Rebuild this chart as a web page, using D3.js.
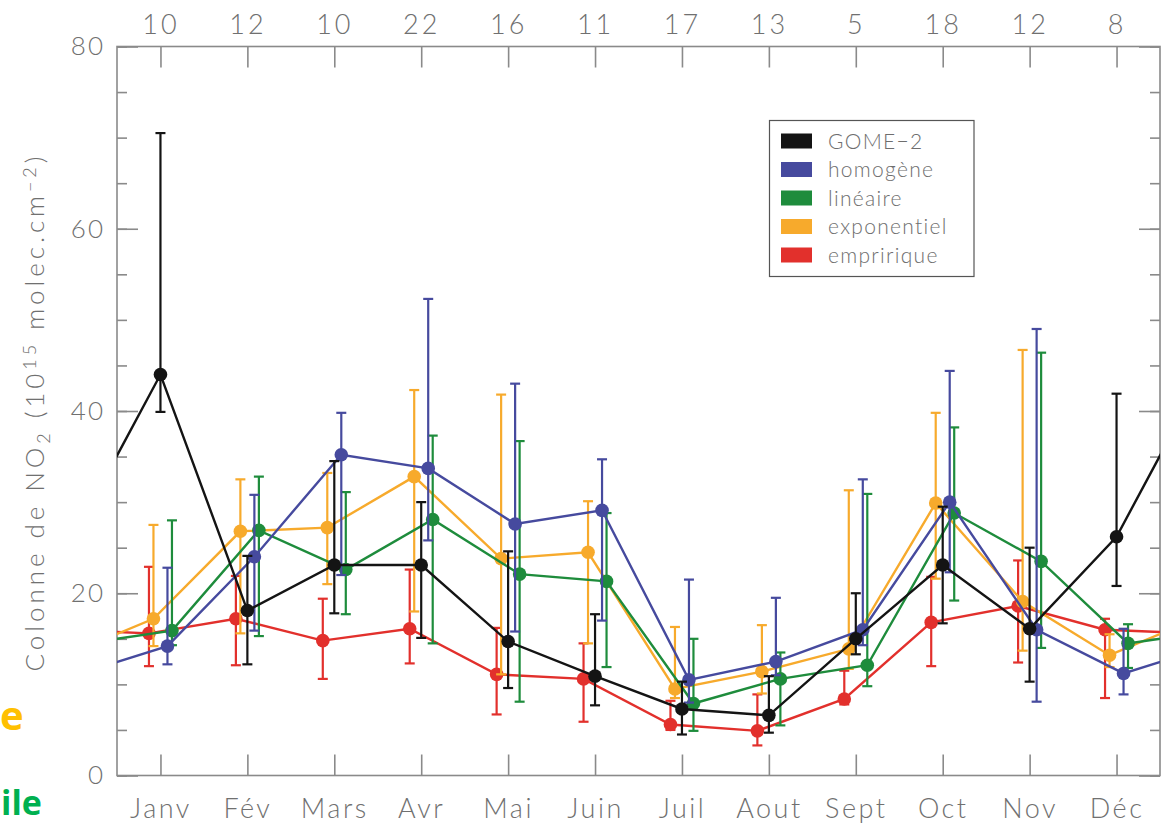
<!DOCTYPE html>
<html>
<head>
<meta charset="utf-8">
<script src="https://cdn.jsdelivr.net/npm/d3@7"></script>
<style>
  html, body { margin: 0; padding: 0; background: #fff; }
  svg { display: block; }
  text { font-family: "Lato", "DejaVu Sans", sans-serif; font-weight: 300; fill: #707070; }
</style>
</head>
<body>
<svg id="chart" width="1165" height="825"></svg>
<script>
// Months and number of days with observations per month
const months = ["Janv", "Fév", "Mars", "Avr", "Mai", "Juin", "Juil", "Aout", "Sept", "Oct", "Nov", "Déc"];
const counts = [10, 12, 10, 22, 16, 11, 17, 13, 5, 18, 12, 8];
const yMajorTicks = [0, 20, 40, 60, 80];

// NO2 columns (1e15 molec/cm2): mean, lower and upper bounds per month
const gome2      = [44.0, 18.1, 23.1, 23.1, 14.7, 10.9, 7.3, 6.6, 15.0, 23.1, 16.1, 26.2];
const gome2Low   = [39.9, 12.2, 17.8, 15.1, 9.6, 7.7, 4.5, 4.7, 13.3, 16.7, 10.3, 20.8];
const gome2High  = [70.5, 24.1, 34.5, 30.0, 24.6, 17.7, 10.3, 10.9, 20.0, 29.5, 25.0, 41.9];

const homogene     = [14.2, 24.0, 35.2, 33.7, 27.6, 29.1, 10.5, 12.5, 16.0, 30.0, 16.0, 11.2];
const homogeneLow  = [12.2, 15.9, 22.0, 25.8, 15.8, 17.0, 8.0, 11.0, 14.3, 22.3, 8.1, 8.9];
const homogeneHigh = [22.8, 30.8, 39.8, 52.3, 43.0, 34.7, 21.5, 19.5, 32.5, 44.4, 49.0, 16.1];

const lineaire     = [15.9, 26.9, 22.6, 28.1, 22.1, 21.3, 7.9, 10.6, 12.1, 28.8, 23.5, 14.5];
const lineaireLow  = [14.3, 15.3, 17.7, 14.5, 8.1, 11.9, 4.9, 5.5, 9.8, 19.2, 14.0, 11.8];
const lineaireHigh = [28.0, 32.8, 31.1, 37.3, 36.7, 28.8, 15.0, 13.5, 30.9, 38.2, 46.4, 16.6];

const exponentiel     = [17.2, 26.8, 27.2, 32.8, 23.8, 24.5, 9.5, 11.4, 13.9, 29.9, 19.1, 13.2];
const exponentielLow  = [14.2, 15.6, 21.0, 18.0, 11.1, 14.5, 8.5, 9.0, 11.7, 21.6, 13.7, 11.9];
const exponentielHigh = [27.5, 32.5, 33.2, 42.3, 41.8, 30.1, 16.3, 16.5, 31.3, 39.8, 46.7, 15.5];

const empirique     = [15.6, 17.2, 14.8, 16.1, 11.1, 10.6, 5.6, 4.9, 8.4, 16.8, 18.6, 16.0];
const empiriqueLow  = [12.0, 12.1, 10.6, 12.3, 6.7, 5.9, 5.0, 3.3, 7.8, 12.0, 12.4, 8.5];
const empiriqueHigh = [22.9, 21.9, 19.4, 22.6, 16.2, 14.5, 8.2, 8.9, 11.5, 21.8, 23.6, 17.2];

const seriesNames = ["GOME\u22122", "homogène", "linéaire", "exponentiel", "empririque"];
const seriesColors = ["#141414", "#464a9e", "#1e8c3c", "#f7aa2c", "#e2302c"];

const series = [
  { name: seriesNames[0], color: seriesColors[0], mean: gome2, low: gome2Low, high: gome2High, offset: 0 },
  { name: seriesNames[1], color: seriesColors[1], mean: homogene, low: homogeneLow, high: homogeneHigh, offset: 7 },
  { name: seriesNames[2], color: seriesColors[2], mean: lineaire, low: lineaireLow, high: lineaireHigh, offset: 11.5 },
  { name: seriesNames[3], color: seriesColors[3], mean: exponentiel, low: exponentielLow, high: exponentielHigh, offset: -7 },
  { name: seriesNames[4], color: seriesColors[4], mean: empirique, low: empiriqueLow, high: empiriqueHigh, offset: -11.5 }
];

const svg = d3.select("#chart");
const L = 117, R = 1160, T = 46.5, B = 775.5;
const axisColor = "#8a8a8a";

const x = d3.scaleLinear().domain([0.5, 12.5]).range([L, R]);
const y = d3.scaleLinear().domain([0, 80]).range([B, T]);

// clip region for the series lines
svg.append("defs").append("clipPath").attr("id", "plotClip")
  .append("rect").attr("x", L).attr("y", T).attr("width", R - L).attr("height", B - T);

function styleAxis(g, size, spacing) {
  g.select(".domain").remove();
  g.selectAll(".tick line").attr("stroke", axisColor).attr("stroke-width", 1.6);
  g.selectAll(".tick text").attr("fill", "#6e6e6e").style("font-size", (size || 26) + "px")
    .style("font-family", "Lato, 'DejaVu Sans', sans-serif").style("font-weight", 300)
    .style("letter-spacing", (spacing || 2) + "px");
}

const monthIdx = d3.range(1, 13);

// left axis: minor and major ticks pointing inward
svg.append("g").attr("transform", `translate(${L},0)`)
  .call(d3.axisLeft(y).tickValues(d3.range(0, 81, 5)).tickSizeInner(-10).tickFormat(""))
  .call(styleAxis);
svg.append("g").attr("transform", `translate(${L},0)`)
  .call(d3.axisLeft(y).tickValues(yMajorTicks).tickSizeInner(-21).tickPadding(12))
  .call(g => styleAxis(g, 26, 2));

// right axis
svg.append("g").attr("transform", `translate(${R},0)`)
  .call(d3.axisRight(y).tickValues(d3.range(0, 81, 5)).tickSizeInner(-10).tickFormat(""))
  .call(styleAxis);
svg.append("g").attr("transform", `translate(${R},0)`)
  .call(d3.axisRight(y).tickValues(yMajorTicks).tickSizeInner(-21).tickFormat(""))
  .call(styleAxis);

// bottom axis: months
svg.append("g").attr("transform", `translate(0,${B})`)
  .call(d3.axisBottom(x).tickValues(monthIdx).tickSizeInner(-21).tickPadding(23)
    .tickFormat(d => months[d - 1]))
  .call(g => styleAxis(g, 27, 2.5));

// top axis: number of observations
svg.append("g").attr("transform", `translate(0,${T})`)
  .call(d3.axisTop(x).tickValues(monthIdx).tickSizeInner(-21).tickPadding(13)
    .tickFormat(d => counts[d - 1]))
  .call(g => styleAxis(g, 27, 3));

// plot frame
svg.append("rect").attr("x", L).attr("y", T).attr("width", R - L).attr("height", B - T)
  .attr("fill", "none").attr("stroke", axisColor).attr("stroke-width", 1.6);

// series: drawn from the empirical one up to GOME-2
const drawOrder = [4, 3, 2, 1, 0];
const line = d3.line().x(d => d[0]).y(d => y(d[1]));

drawOrder.forEach(si => {
  const s = series[si];
  const g = svg.append("g");
  // cyclic line: December before January and January after December
  const pts = [[x(0) + s.offset, s.mean[11]]]
    .concat(s.mean.map((v, i) => [x(i + 1) + s.offset, v]))
    .concat([[x(13) + s.offset, s.mean[0]]]);
  g.append("path").attr("d", line(pts)).attr("fill", "none")
    .attr("stroke", s.color).attr("stroke-width", 2.4)
    .attr("clip-path", "url(#plotClip)");

  // error bars
  const eb = g.selectAll(".eb").data(s.mean.map((v, i) => i)).join("g");
  eb.append("line")
    .attr("x1", i => x(i + 1) + s.offset).attr("x2", i => x(i + 1) + s.offset)
    .attr("y1", i => y(s.low[i])).attr("y2", i => y(s.high[i]))
    .attr("stroke", s.color).attr("stroke-width", 2.2);
  ["low", "high"].forEach(k => {
    eb.append("line")
      .attr("x1", i => x(i + 1) + s.offset - 5).attr("x2", i => x(i + 1) + s.offset + 5)
      .attr("y1", i => y(s[k][i])).attr("y2", i => y(s[k][i]))
      .attr("stroke", s.color).attr("stroke-width", 2.2);
  });

  // monthly means
  g.selectAll("circle").data(s.mean).join("circle")
    .attr("cx", (v, i) => x(i + 1) + s.offset).attr("cy", v => y(v))
    .attr("r", 6.8).attr("fill", s.color);
});

// y-axis title
const yt = svg.append("text")
  .attr("transform", "translate(44,414) rotate(-90)")
  .attr("text-anchor", "middle")
  .style("font-size", "26px").style("fill", "#707070")
  .attr("textLength", 515).attr("lengthAdjust", "spacing");
yt.append("tspan").text("Colonne de NO");
yt.append("tspan").text("2").attr("baseline-shift", "-35%").style("font-size", "18px");
yt.append("tspan").text(" (10");
yt.append("tspan").text("15").attr("baseline-shift", "45%").style("font-size", "18px");
yt.append("tspan").text(" molec.cm");
yt.append("tspan").text("\u22122").attr("baseline-shift", "45%").style("font-size", "18px");
yt.append("tspan").text(")");

// legend
const lg = svg.append("g").attr("transform", "translate(769.5,120.5)");
lg.append("rect").attr("width", 204.5).attr("height", 156)
  .attr("fill", "#fff").attr("stroke", "#555").attr("stroke-width", 1.2);
series.forEach((s, i) => {
  const cy = 20.5 + i * 28.5;
  lg.append("rect").attr("x", 11.5).attr("y", cy - 7.5).attr("width", 31).attr("height", 15)
    .attr("fill", s.color);
  lg.append("text").attr("x", 58.5).attr("y", cy + 7.5).text(s.name)
    .style("font-size", "21px").style("fill", "#6e6e6e").style("letter-spacing", "1.3px");
});

// fragments of neighbouring slide text at the left margin
svg.append("text").attr("x", 0).attr("y", 730).text("e")
  .style("font-family", "'Open Sans', sans-serif").style("font-weight", 700)
  .style("font-size", "40px").style("fill", "#ffc000");
svg.append("text").attr("x", 1).attr("y", 815).text("ile")
  .style("font-family", "'Open Sans', sans-serif").style("font-weight", 700)
  .style("font-size", "34px").style("fill", "#00b050");
</script>
</body>
</html>
